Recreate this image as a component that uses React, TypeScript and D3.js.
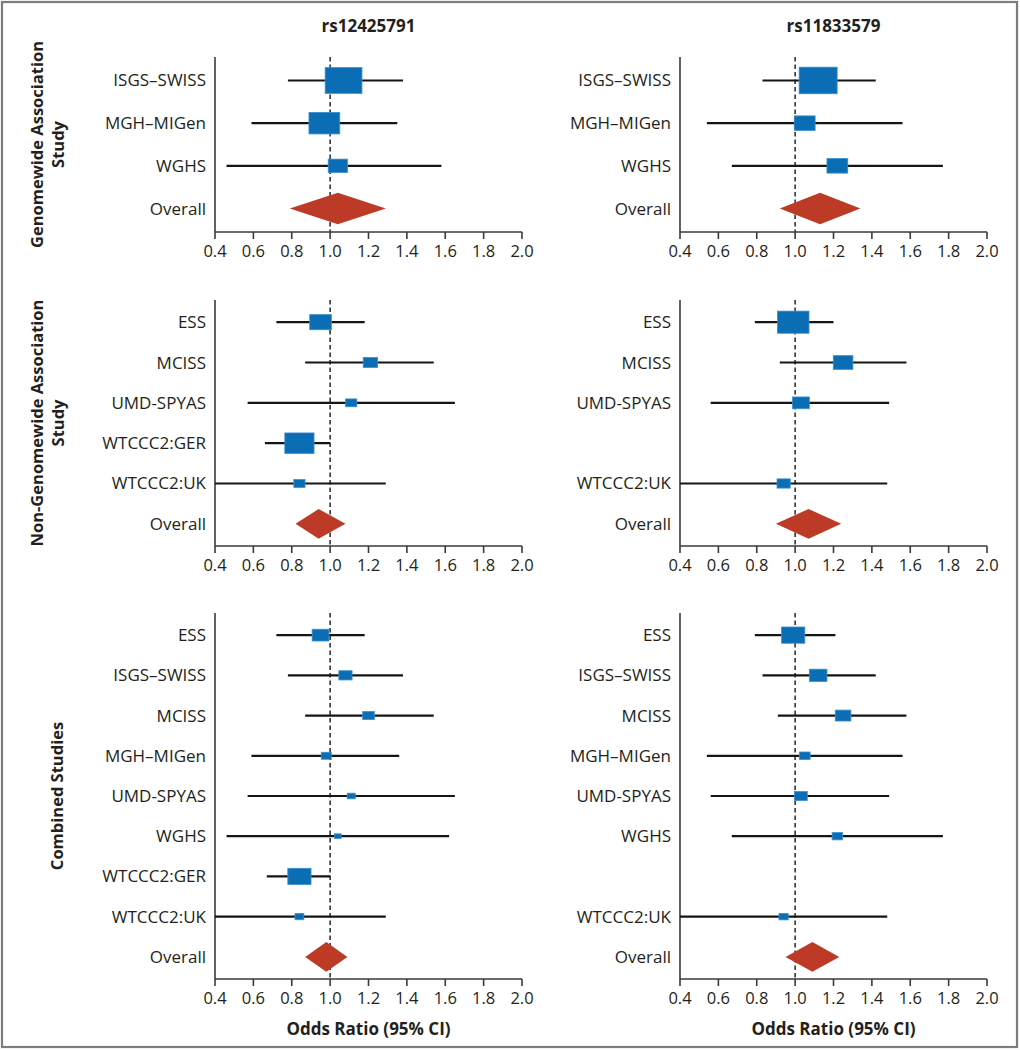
import React from "react";
import * as d3 from "d3";

// ---------- categories ----------
const snps = ["rs12425791", "rs11833579"];
const groupLabels = [
  ["Genomewide Association", "Study"],
  ["Non-Genomewide Association", "Study"],
  ["Combined Studies"],
];
const gwasRows = ["ISGS–SWISS", "MGH–MIGen", "WGHS", "Overall"];
const nonGwasRows = ["ESS", "MCISS", "UMD-SPYAS", "WTCCC2:GER", "WTCCC2:UK", "Overall"];
const combinedRows = ["ESS", "ISGS–SWISS", "MCISS", "MGH–MIGen", "UMD-SPYAS", "WGHS", "WTCCC2:GER", "WTCCC2:UK", "Overall"];
const xTicks = [0.4, 0.6, 0.8, 1.0, 1.2, 1.4, 1.6, 1.8, 2.0];
const xAxisTitle = "Odds Ratio (95% CI)";

// ---------- rs12425791 ----------
const l_gwas_or = [1.07, 0.97, 1.04, 1.04];
const l_gwas_lo = [0.78, 0.59, 0.46, 0.79];
const l_gwas_hi = [1.38, 1.35, 1.58, 1.29];
const l_gwas_w = [92, 77, 48, null];

const l_non_or = [0.95, 1.21, 1.11, 0.84, 0.84, 0.94];
const l_non_lo = [0.72, 0.87, 0.57, 0.66, 0.38, 0.82];
const l_non_hi = [1.18, 1.54, 1.65, 1.0, 1.29, 1.08];
const l_non_w = [54, 36, 28, 73, 28, null];

const l_comb_or = [0.95, 1.08, 1.2, 0.98, 1.11, 1.04, 0.84, 0.84, 0.98];
const l_comb_lo = [0.72, 0.78, 0.87, 0.59, 0.57, 0.46, 0.67, 0.38, 0.87];
const l_comb_hi = [1.18, 1.38, 1.54, 1.36, 1.65, 1.62, 1.0, 1.29, 1.09];
const l_comb_w = [42, 33, 29, 25, 20, 17, 58, 22, null];

// ---------- rs11833579 ----------
const r_gwas_or = [1.12, 1.05, 1.22, 1.13];
const r_gwas_lo = [0.83, 0.54, 0.67, 0.92];
const r_gwas_hi = [1.42, 1.56, 1.77, 1.34];
const r_gwas_w = [95, 52, 52, null];

const r_non_or = [0.99, 1.25, 1.03, null, 0.94, 1.07];
const r_non_lo = [0.79, 0.92, 0.56, null, 0.38, 0.9];
const r_non_hi = [1.2, 1.58, 1.49, null, 1.48, 1.24];
const r_non_w = [79, 49, 42, null, 33, null];

const r_comb_or = [0.99, 1.12, 1.25, 1.05, 1.03, 1.22, null, 0.94, 1.09];
const r_comb_lo = [0.79, 0.83, 0.91, 0.54, 0.56, 0.67, null, 0.38, 0.95];
const r_comb_hi = [1.21, 1.42, 1.58, 1.56, 1.49, 1.77, null, 1.48, 1.23];
const r_comb_w = [58, 44, 39, 27, 32, 26, null, 23, null];

type Row = { label: string; or: number | null; lo: number | null; hi: number | null; w: number | null };

function build(rows: string[], or: any[], lo: any[], hi: any[], w: any[]): Row[] {
  return rows.map((label, i) => ({ label, or: or[i], lo: lo[i], hi: hi[i], w: w[i] }));
}

const panels = [
  [build(gwasRows, l_gwas_or, l_gwas_lo, l_gwas_hi, l_gwas_w), build(gwasRows, r_gwas_or, r_gwas_lo, r_gwas_hi, r_gwas_w)],
  [build(nonGwasRows, l_non_or, l_non_lo, l_non_hi, l_non_w), build(nonGwasRows, r_non_or, r_non_lo, r_non_hi, r_non_w)],
  [build(combinedRows, l_comb_or, l_comb_lo, l_comb_hi, l_comb_w), build(combinedRows, r_comb_or, r_comb_lo, r_comb_hi, r_comb_w)],
];

// ---------- layout ----------
const W = 1020;
const H = 1050;
const colX: [number, number][] = [
  [215, 522],
  [680, 987],
];
const rowY: [number, number][] = [
  [57, 232],
  [300, 546],
  [613, 979],
];
const FONT = "'Open Sans', 'Noto Sans', sans-serif";
const TEXT = "#231f20";
const BLUE = "#0b6db4";
const BLUE_EDGE = "#3b8fd0";
const RED = "#bd3a27";

const weightScale = d3.scaleLinear().domain([0, 100]).range([0, 40]);

function Panel({ rows, xr, yr }: { rows: Row[]; xr: [number, number]; yr: [number, number] }) {
  const x = d3.scaleLinear().domain([0.4, 2.0]).range(xr).clamp(true);
  const y = d3.scalePoint<string>().domain(rows.map((r) => r.label)).range(yr).padding(0.55);
  const step = y.step();
  const x1 = x(1.0);
  return (
    <g>
      <line x1={x1} x2={x1} y1={yr[0]} y2={yr[1]} stroke="#333" strokeWidth={1.6} strokeDasharray="4.5,3" />
      <line x1={xr[0]} x2={xr[0]} y1={yr[0]} y2={yr[1]} stroke="#3a3a3a" strokeWidth={1.6} />
      <line x1={xr[0]} x2={xr[1]} y1={yr[1]} y2={yr[1]} stroke="#3a3a3a" strokeWidth={1.6} />
      {xTicks.map((t) => (
        <g key={t}>
          <line x1={x(t)} x2={x(t)} y1={yr[1]} y2={yr[1] + 7} stroke="#3a3a3a" strokeWidth={1.6} />
          <text x={x(t)} y={yr[1] + 25} textAnchor="middle" fontSize={16.5} fill={TEXT} fontFamily={FONT}>
            {d3.format(".1f")(t)}
          </text>
        </g>
      ))}
      {rows.map((r) => {
        if (r.or == null) return null;
        const cy = y(r.label)!;
        const isOverall = r.label === "Overall";
        const label = (
          <text x={xr[0] - 9} y={cy + 6} textAnchor="end" fontSize={17} fill={TEXT} fontFamily={FONT}>
            {r.label}
          </text>
        );
        if (isOverall) {
          const hh = step * 0.37;
          const pts = [
            [x(r.lo!), cy],
            [x(r.or!), cy - hh],
            [x(r.hi!), cy],
            [x(r.or!), cy + hh],
          ];
          return (
            <g key={r.label}>
              {label}
              <polygon points={pts.map((p) => p.join(",")).join(" ")} fill={RED} />
            </g>
          );
        }
        const bw = weightScale(r.w!);
        const bh = bw * 0.7;
        return (
          <g key={r.label}>
            {label}
            <line x1={x(r.lo!)} x2={x(r.hi!)} y1={cy} y2={cy} stroke="#151515" strokeWidth={2.2} />
            <rect x={x(r.or!) - bw / 2} y={cy - bh / 2} width={bw} height={bh} fill={BLUE} stroke={BLUE_EDGE} strokeWidth={0.8} />
          </g>
        );
      })}
    </g>
  );
}

export default function App() {
  return (
    <svg width={W} height={H} style={{ position: "absolute", left: 0, top: 0, background: "#fff" }}>
      <rect x={0} y={0} width={W} height={H} fill="#fff" />
      <rect x={2} y={2} width={1015} height={1045} fill="none" stroke="#7d7d7d" strokeWidth={2.2} />
      {snps.map((s, i) => (
        <text key={s} x={(colX[i][0] + colX[i][1]) / 2} y={32} textAnchor="middle" fontSize={17} fontWeight="bold" fill={TEXT} fontFamily={FONT}>
          {s}
        </text>
      ))}
      {groupLabels.map((lines, gi) => {
        const cy = (rowY[gi][0] + rowY[gi][1]) / 2;
        const xs = lines.length === 2 ? [43, 64] : [63];
        return (
          <g key={gi}>
            {lines.map((ln, li) => (
              <text
                key={li}
                transform={`translate(${xs[li]},${cy}) rotate(-90)`}
                textAnchor="middle"
                fontSize={16.5}
                fontWeight="bold"
                fill={TEXT}
                fontFamily={FONT}
              >
                {ln}
              </text>
            ))}
          </g>
        );
      })}
      {panels.map((pair, pi) =>
        pair.map((rows, ci) => <Panel key={`${pi}-${ci}`} rows={rows} xr={colX[ci]} yr={rowY[pi]} />)
      )}
      {colX.map((xr, i) => (
        <text key={i} x={(xr[0] + xr[1]) / 2} y={1035} textAnchor="middle" fontSize={17} fontWeight="bold" fill={TEXT} fontFamily={FONT}>
          {xAxisTitle}
        </text>
      ))}
    </svg>
  );
}
